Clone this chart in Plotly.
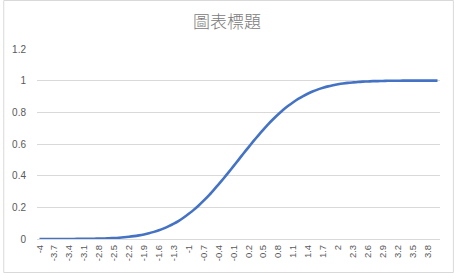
import plotly.graph_objects as go

categories = ["-4", "-3.9", "-3.8", "-3.7", "-3.6", "-3.5", "-3.4", "-3.3", "-3.2", "-3.1",
              "-3", "-2.9", "-2.8", "-2.7", "-2.6", "-2.5", "-2.4", "-2.3", "-2.2", "-2.1",
              "-2", "-1.9", "-1.8", "-1.7", "-1.6", "-1.5", "-1.4", "-1.3", "-1.2", "-1.1",
              "-1", "-0.9", "-0.8", "-0.7", "-0.6", "-0.5", "-0.4", "-0.3", "-0.2", "-0.1",
              "0", "0.1", "0.2", "0.3", "0.4", "0.5", "0.6", "0.7", "0.8", "0.9",
              "1", "1.1", "1.2", "1.3", "1.4", "1.5", "1.6", "1.7", "1.8", "1.9",
              "2", "2.1", "2.2", "2.3", "2.4", "2.5", "2.6", "2.7", "2.8", "2.9",
              "3", "3.1", "3.2", "3.3", "3.4", "3.5", "3.6", "3.7", "3.8", "3.9", "4"]

values = [0.000, 0.000, 0.000, 0.000, 0.000, 0.000, 0.000, 0.000, 0.001, 0.001,
          0.001, 0.002, 0.003, 0.003, 0.005, 0.006, 0.008, 0.011, 0.014, 0.018,
          0.023, 0.029, 0.036, 0.045, 0.055, 0.067, 0.081, 0.097, 0.115, 0.136,
          0.159, 0.184, 0.212, 0.242, 0.274, 0.309, 0.345, 0.382, 0.421, 0.460,
          0.500, 0.540, 0.579, 0.618, 0.655, 0.691, 0.726, 0.758, 0.788, 0.816,
          0.841, 0.864, 0.885, 0.903, 0.919, 0.933, 0.945, 0.955, 0.964, 0.971,
          0.977, 0.982, 0.986, 0.989, 0.992, 0.994, 0.995, 0.997, 0.997, 0.998,
          0.999, 0.999, 0.999, 1.000, 1.000, 1.000, 1.000, 1.000, 1.000, 1.000, 1.000]

tick_labels = categories[::3]

title_text = "圖表標題"

W, H = 454, 273
ml, mr, mt, mb = 34, 14, 49, 34
pw, ph = W - ml - mr, H - mt - mb

fig = go.Figure()
fig.add_trace(go.Scatter(
    x=list(range(len(categories))), y=values, mode="lines",
    line=dict(color="#4472C4", width=2.6, shape="spline", smoothing=0.6),
    hoverinfo="skip", showlegend=False,
))

fig.update_layout(
    width=W, height=H,
    margin=dict(l=ml, r=mr, t=mt, b=mb),
    paper_bgcolor="white", plot_bgcolor="white",
    title=dict(text=title_text, x=0.5, xanchor="center", y=1 - 22 / H, yanchor="middle",
               font=dict(family="Noto Sans CJK TC", size=17, color="#7a7a7a", weight=300)),
    font=dict(family="Liberation Sans", size=10, color="#595959"),
    xaxis=dict(
        range=[-0.5, len(categories) - 0.5],
        tickmode="array",
        tickvals=list(range(0, len(categories), 3)),
        ticktext=tick_labels,
        tickangle=-90,
        showgrid=False, zeroline=False,
        showline=False, ticks="",
        ticklabelstandoff=3,
        tickfont=dict(size=9.5, color="#595959"),
    ),
    yaxis=dict(
        range=[0, 1.2],
        tickvals=[0, 0.2, 0.4, 0.6, 0.8, 1, 1.2],
        ticktext=["0", "0.2", "0.4", "0.6", "0.8", "1", "1.2"],
        showgrid=True, gridcolor="#d9d9d9", gridwidth=1,
        zeroline=True, zerolinecolor="#d9d9d9", zerolinewidth=1,
        showline=False, ticks="",
        ticklabelstandoff=10,
        tickfont=dict(size=10, color="#595959"),
    ),
    shapes=[dict(
        type="rect", xref="paper", yref="paper",
        x0=-(ml - 0.5) / pw, x1=1 + (mr - 0.5) / pw,
        y0=-(mb - 0.5) / ph, y1=1 + (mt - 0.5) / ph,
        line=dict(color="#d9d9d9", width=1), fillcolor="rgba(0,0,0,0)",
    )],
)

fig.write_html("out.html")
